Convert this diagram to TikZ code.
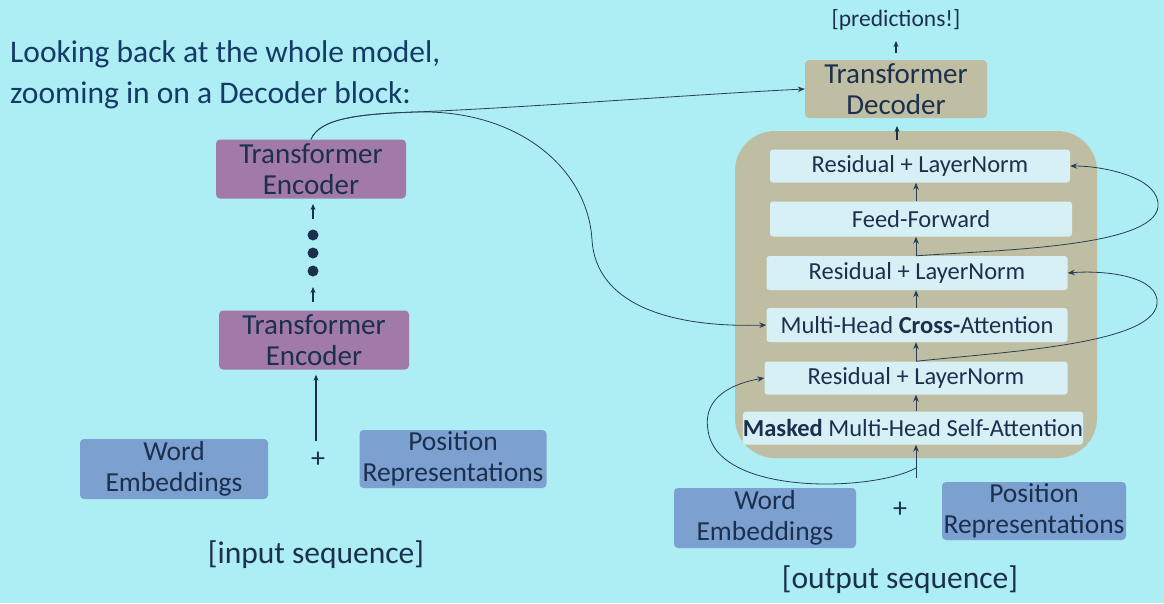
\documentclass[tikz,border=0pt]{standalone}
\usepackage{fontspec}
\setmainfont{Carlito}
\usetikzlibrary{arrows.meta}

\definecolor{bg}{RGB}{172,238,244}
\definecolor{ink}{RGB}{28,48,78}
\definecolor{titleink}{RGB}{22,58,104}
\definecolor{encfill}{RGB}{162,122,168}
\definecolor{embfill}{RGB}{124,160,208}
\definecolor{decfill}{RGB}{192,190,162}
\definecolor{layerfill}{RGB}{214,240,246}
\definecolor{linec}{RGB}{40,62,84}

\tikzset{
  box/.style={rounded corners=4pt, inner sep=0pt, align=center, text=ink,
              font=\fontsize{29}{31}\selectfont},
  encbox/.style={box, fill=encfill, minimum width=190pt, minimum height=59pt},
  embbox/.style={box, fill=embfill, minimum width=188pt, minimum height=60pt,
                 font=\fontsize{27.5}{31}\selectfont},
  decbox/.style={box, fill=decfill, minimum width=182pt, minimum height=58pt},
  layer/.style={rounded corners=3pt, inner sep=0pt, fill=layerfill, text=ink,
                minimum height=33pt, font=\fontsize{24.5}{26}\selectfont},
  label/.style={text=ink, inner sep=0pt},
  arr/.style={-{Stealth[length=6pt,width=5pt]}, line width=1.3pt, draw=ink},
  link/.style={-{Stealth[length=7pt,width=5.5pt]}, line width=0.8pt, draw=linec},
  dot/.style={circle, fill=ink, minimum size=11pt, inner sep=0pt}
}

\begin{document}
\begin{tikzpicture}[x=1pt,y=-1pt]
\fill[bg] (0,0) rectangle (1164,603);
\useasboundingbox (0,0) rectangle (1164,603);

% heading
\node[anchor=base west, text=titleink, inner sep=0pt, font=\fontsize{31.5}{36}\selectfont]
  (t1) at (10,62) {Looking back at the whole model,};
\node[anchor=base west, text=titleink, inner sep=0pt, font=\fontsize{31.5}{36}\selectfont]
  (t2) at (10,103) {zooming in on a Decoder block:};

% ---------- encoder stack ----------
\node[encbox] (enc2) at (311,169) {Transformer\\Encoder};
\node[encbox] (enc1) at (314,340) {Transformer\\Encoder};
\node[dot] (d1) at (313,235) {};
\node[dot] (d2) at (313,253) {};
\node[dot] (d3) at (313,271) {};
\coordinate (ea1) at (313,219);
\coordinate (ea2) at (313,204);
\coordinate (eb1) at (313,302);
\coordinate (eb2) at (313,287);
\draw[arr] (ea1) -- (ea2);
\draw[arr] (eb1) -- (eb2);

\node[embbox] (we1) at (174,469) {Word\\Embeddings};
\node[embbox, minimum width=187pt, minimum height=58pt] (pr1) at (453,459) {Position\\Representations};
\node[label, font=\fontsize{28}{30}\selectfont] (plus1) at (318,460) {+};
\coordinate (ein) at (316,441);
\draw[arr] (ein) -- ([yshift=-5pt]ein |- enc1.south);
\node[label, font=\fontsize{31.5}{34}\selectfont] (inseq) at (316,555) {[input sequence]};

% ---------- decoder ----------
\node[label, font=\fontsize{23.5}{26}\selectfont] (pred) at (896,20) {[predictions!]};
\node[decbox] (dec) at (896,89) {Transformer\\Decoder};
\coordinate (pa1) at (896,53);
\coordinate (pa2) at (896,41);
\draw[arr] (pa1) -- (pa2);

\draw[fill=decfill, draw=none, rounded corners=40pt] (735,131) rectangle (1097,458);
\coordinate (ca1) at (897,140);
\coordinate (ca2) at (897,126);
\draw[arr] (ca1) -- (ca2);

\node[layer, minimum width=300pt] (r3) at (920,166) {Residual + LayerNorm};
\node[layer, minimum width=302pt, minimum height=35pt] (ff) at (921,219) {Feed-Forward};
\node[layer, minimum width=301pt, minimum height=34pt] (r2) at (917,273) {Residual + LayerNorm};
\node[layer, minimum width=301pt, minimum height=34pt] (ca) at (917,325) {Multi-Head \textbf{Cross-}Attention};
\node[layer, minimum width=303pt] (r1) at (916,378) {Residual + LayerNorm};
\node[layer, minimum width=337pt] (ms) at (913,428) {\textbf{Masked} Multi-Head Self-Attention};

% main path through the block
\coordinate (spine) at (916,0);
\draw[link] (ms.north -| spine) -- (r1.south -| spine);
\draw[link] (r1.north -| spine) -- (ca.south -| spine);
\draw[link] (ca.north -| spine) -- (r2.south -| spine);
\draw[link] (r2.north -| spine) -- (ff.south -| spine);
\draw[link] (ff.north -| spine) -- (r3.south -| spine);

% decoder inputs
\node[embbox, minimum width=182pt] (we2) at (765,518) {Word\\Embeddings};
\node[embbox, minimum width=184pt, minimum height=58pt] (pr2) at (1034,511) {Position\\Representations};
\node[label, font=\fontsize{28}{30}\selectfont] (plus2) at (900,510) {+};
\node[label, font=\fontsize{31.5}{34}\selectfont] (outseq) at (900,580) {[output sequence]};
\coordinate (din) at (916,478);
\coordinate (split) at (916,468);
\draw[link] (din) -- (ms.south -| spine);

% residual connections
\draw[link] (split) .. controls (872,492) and (716,496) .. (708,430)
                    .. controls (702,396) and (735,383) .. (r1.west);
\draw[link] (r1.north -| spine) .. controls (1000,352) and (1152,345) .. (1157,304)
                               .. controls (1160,276) and (1105,270) .. (r2.east);
\draw[link] (r2.north -| spine) .. controls (1000,250) and (1153,247) .. (1158,207)
                               .. controls (1161,178) and (1105,166) .. (r3.east);

% encoder output feeding the decoder
\coordinate (fork) at (415,112);
\draw[link] (enc2.north) .. controls (320,118) and (360,114) .. (fork)
            .. controls (520,108) and (700,94) .. (dec.west);
\draw[link] (enc2.north) .. controls (320,118) and (360,114) .. (fork)
            .. controls (520,109) and (588,170) .. (592,240)
            .. controls (596,302) and (665,328) .. (ca.west);
\end{tikzpicture}
\end{document}
